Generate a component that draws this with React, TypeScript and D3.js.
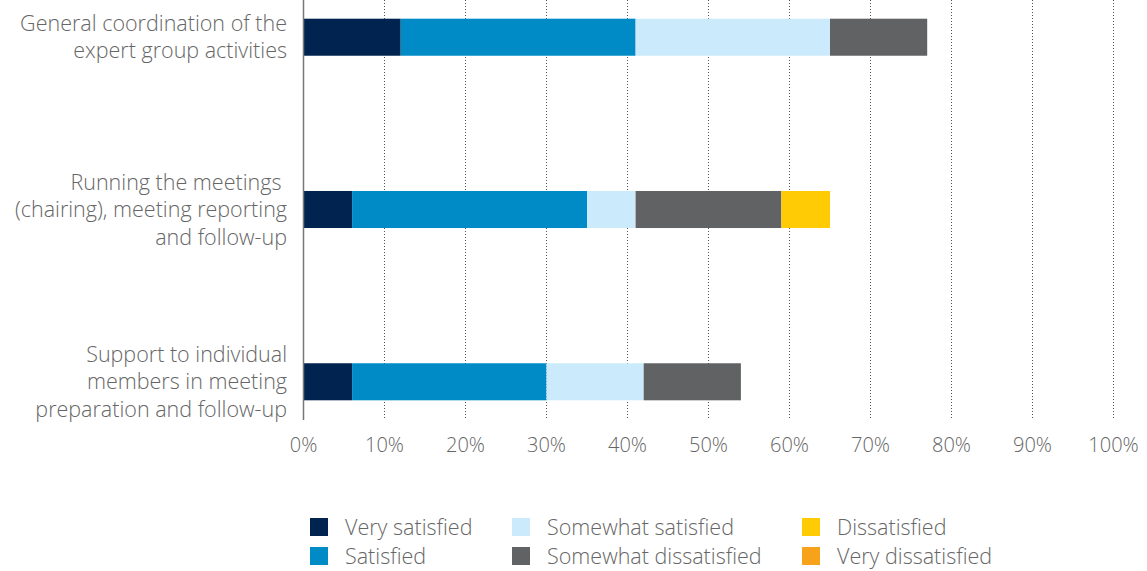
import React from "react";
import * as d3 from "d3";

const categories = [
  ["General coordination of the", "expert group activities"],
  ["Running the meetings ", "(chairing), meeting reporting", "and follow-up"],
  ["Support to individual", "members in meeting", "preparation and follow-up"],
];
const seriesNames = [
  "Very satisfied",
  "Satisfied",
  "Somewhat satisfied",
  "Somewhat dissatisfied",
  "Dissatisfied",
  "Very dissatisfied",
];
const seriesColors = ["#00234f", "#008bc7", "#cbeafb", "#616264", "#ffcb05", "#f7a21b"];
const verySatisfied = [12, 6, 6];
const satisfied = [29, 29, 24];
const somewhatSatisfied = [24, 6, 12];
const somewhatDissatisfied = [12, 18, 12];
const dissatisfied = [0, 6, 0];
const veryDissatisfied = [0, 0, 0];
const xTicks = [0, 10, 20, 30, 40, 50, 60, 70, 80, 90, 100];

const W = 1147;
const H = 571;
const FONT = "'Open Sans', Roboto, sans-serif";

export default function App() {
  const series = [verySatisfied, satisfied, somewhatSatisfied, somewhatDissatisfied, dissatisfied, veryDissatisfied];
  const rows = categories.map((c, i) => {
    const o: any = { idx: i };
    seriesNames.forEach((s, k) => (o[s] = series[k][i]));
    return o;
  });
  const stacked = d3.stack<any>().keys(seriesNames)(rows);
  const x = d3.scaleLinear().domain([0, 100]).range([303.5, 1113.5]);
  const y = d3.scaleBand<number>().domain([0, 1, 2]).range([-48.5, 467.5]).paddingInner(0.785).paddingOuter(0.39);
  const plotTop = 0;
  const plotBottom = 420;
  const lineH = 27.5;

  return (
    <svg width={W} height={H} style={{ position: "absolute", left: 0, top: 0 }} fontFamily={FONT}>
      <rect width={W} height={H} fill="#fff" />
      {xTicks.slice(1).map((t) => (
        <line key={t} x1={x(t)} x2={x(t)} y1={plotTop} y2={plotBottom} stroke="#555" strokeWidth={1} strokeDasharray="1,2" />
      ))}
      {stacked.map((layer, k) =>
        layer.map((d, i) =>
          d[1] - d[0] > 0 ? (
            <rect
              key={k + "-" + i}
              x={x(d[0])}
              y={y(i)!}
              width={x(d[1]) - x(d[0])}
              height={y.bandwidth()}
              fill={seriesColors[k]}
            />
          ) : null
        )
      )}
      <line x1={x(0)} x2={x(0)} y1={plotTop} y2={plotBottom} stroke="#777" strokeWidth={1.5} />
      {xTicks.map((t) => (
        <text key={t} x={x(t)} y={452} textAnchor="middle" fontSize={20} fill="#666" fontWeight={300}>
          {t + "%"}
        </text>
      ))}
      {categories.map((lines, i) => {
        const cy = y(i)! + y.bandwidth() / 2;
        const start = cy - ((lines.length - 1) * lineH) / 2;
        return (
          <text key={i} textAnchor="end" fontSize={21.5} fill="#666" fontWeight={300}>
            {lines.map((l, j) => (
              <tspan key={j} x={287} y={start + j * lineH + 7.5} style={{ whiteSpace: "pre" }}>
                {l}
              </tspan>
            ))}
          </text>
        );
      })}
      {seriesNames.map((s, k) => {
        const col = Math.floor(k / 2);
        const row = k % 2;
        const sx = [310, 512, 802][col];
        const sy = 518 + row * 29;
        return (
          <g key={s}>
            <rect x={sx} y={sy} width={18} height={18} fill={seriesColors[k]} />
            <text x={sx + 35} y={sy + 16.5} fontSize={21.5} fill="#666" fontWeight={300}>
              {s}
            </text>
          </g>
        );
      })}
    </svg>
  );
}
